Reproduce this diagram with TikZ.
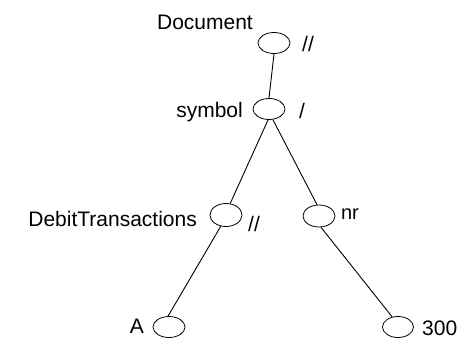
\documentclass[tikz,border=0pt]{standalone}
\usepackage{fontspec}
\setmainfont{Liberation Sans}
\usetikzlibrary{shapes.geometric}
\begin{document}
\begin{tikzpicture}[x=1pt,y=-1pt,
  vtx/.style={draw,ellipse,inner sep=0pt,minimum width=32pt,minimum height=21pt,line width=0.8pt},
  lbl/.style={inner sep=0pt,font=\fontsize{21}{24}\selectfont},
  edge/.style={line width=0.9pt}]
\useasboundingbox (0,0) rectangle (463,340);
\node[vtx] (doc) at (274,43) {};
\node[vtx] (sym) at (269,109) {};
\node[vtx,minimum height=23pt] (deb) at (226,215) {};
\node[vtx,minimum height=22pt] (nr) at (319,216) {};
\node[vtx] (a) at (169,327) {};
\node[vtx,minimum width=31pt] (t) at (398,327) {};
\node[lbl,anchor=base east] (ldoc) at (253,29) {Document};
\node[lbl] (sdoc) at (308,44) {//};
\node[lbl,anchor=base east] (lsym) at (243,117) {symbol};
\node[lbl] (ssym) at (302,111) {/};
\node[lbl,anchor=base east] (ldeb) at (197,226) {DebitTransactions};
\node[lbl] (sdeb) at (254,224) {//};
\node[lbl,font=\fontfamily{lmr}\fontsize{20}{24}\selectfont\rmfamily] (lnr) at (350,214) {nr};
\node[lbl,anchor=base east] (la) at (144,333) {A};
\node[lbl,anchor=base west] (lt) at (422,335) {300};
\draw[edge] (doc.south) -- (sym.north);
\draw[edge] (sym.-95) -- (deb.70);
\draw[edge] (sym.-70) -- (nr.100);
\draw[edge] (deb.-115) -- (a.95);
\draw[edge] (nr.-80) -- (t.120);
\end{tikzpicture}
\end{document}
